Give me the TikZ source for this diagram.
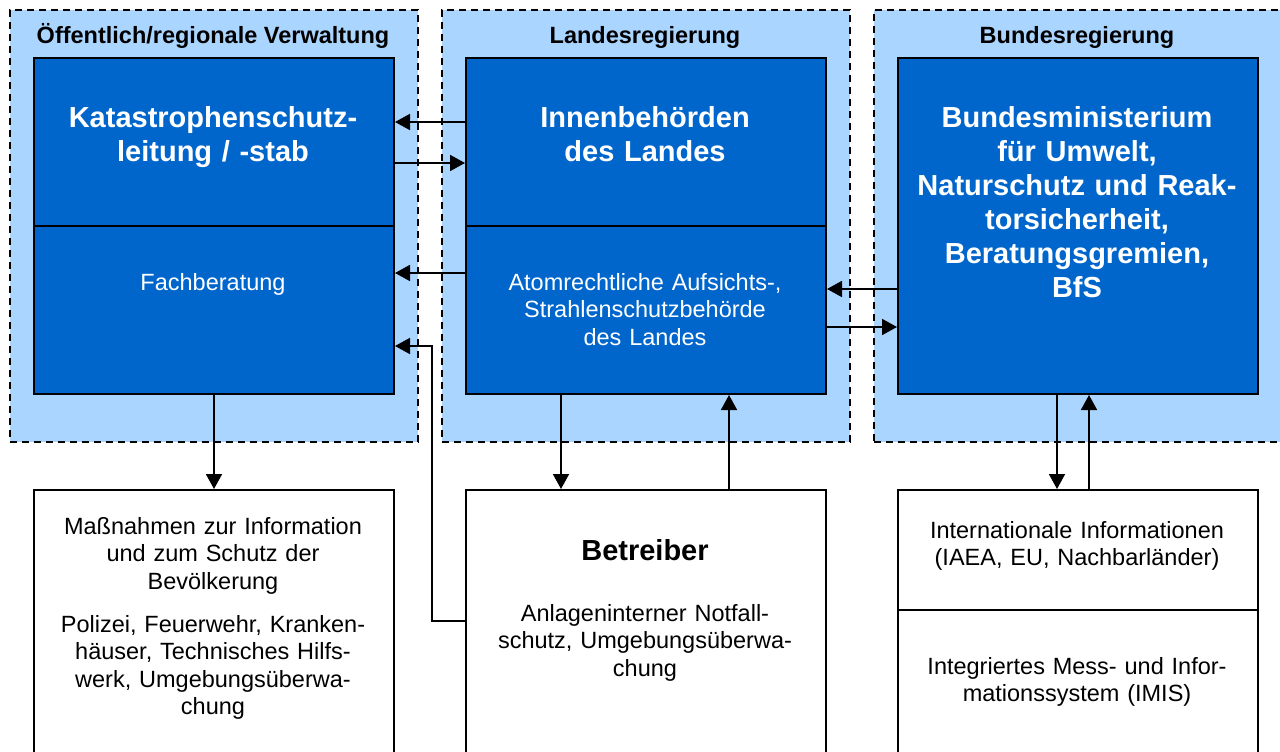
\documentclass[tikz,border=0pt]{standalone}
\usepackage{fontspec}
\setmainfont{Liberation Sans}
\usepackage{tikz}
\usetikzlibrary{arrows.meta}
\definecolor{unitblue}{HTML}{0066CC}
\definecolor{zoneblue}{HTML}{AAD5FF}
\tikzstyle{zone}=[draw=black, fill=zoneblue, line width=1.8pt, dash pattern=on 7pt off 5pt,
    anchor=north west, minimum width=408pt, minimum height=432pt]
\tikzstyle{unit_box}=[draw=black, fill=unitblue, line width=2pt, anchor=north west,
    minimum width=360pt, minimum height=168pt]
\tikzstyle{info_box}=[draw=black, fill=white, line width=2pt, anchor=north west,
    minimum width=360pt]
\tikzstyle{zone_title}=[anchor=base, inner sep=0pt, font=\fontsize{23.5}{27.5}\selectfont\bfseries]
\tikzstyle{head_text}=[anchor=base, inner sep=0pt, text width=350pt, align=center,
    font=\fontsize{29}{34}\selectfont\bfseries]
\tikzstyle{body_text}=[anchor=base, inner sep=0pt, text width=350pt, align=center,
    font=\fontsize{23.5}{27.5}\selectfont]
\tikzstyle{flow}=[line width=1.8pt, -{Triangle[length=15pt, width=16pt]}]

\begin{document}
\begin{tikzpicture}[x=1pt, y=-1pt]
          \useasboundingbox (0,0) rectangle (1280,752);
          % Zonen
          \node[zone] (zoneL) at (9,9){};
          \node[zone] (zoneM) at (441,9){};
          \node[zone, minimum width=430pt] (zoneR) at (873,9){};
          \node[zone_title] (zoneLt) at (213,43.5){Öffentlich/regionale Verwaltung};
          \node[zone_title] (zoneMt) at (645,43.5){Landesregierung};
          \node[zone_title] (zoneRt) at (1077,43.5){Bundesregierung};
          % Behoerden
          \node[unit_box] (kat) at (33,57){};
          \node[unit_box] (fach) at (33,225){};
          \node[unit_box] (inn) at (465,57){};
          \node[unit_box] (atom) at (465,225){};
          \node[unit_box, minimum height=336pt] (bmu) at (897,57){};
          \node[head_text, white] (katT) at (213,128){Katastrophenschutz-\\leitung / -stab};
          \node[body_text, white] (fachT) at (213,290){Fachberatung};
          \node[head_text, white] (innT) at (645,128){Innenbehörden\\des Landes};
          \node[body_text, white] (atomT) at (645,290){Atomrechtliche Aufsichts-,\\Strahlenschutzbehörde\\des Landes};
          \node[head_text, white] (bmuT) at (1077,127){Bundesministerium\\für Umwelt,\\Naturschutz und Reak-\\torsicherheit,\\Beratungsgremien,\\BfS};
          % untere Kaesten
          \node[info_box, minimum height=290pt] (mass) at (33,489){};
          \node[info_box, minimum height=290pt] (betr) at (465,489){};
          \node[info_box, minimum height=120pt] (intl) at (897,489){};
          \node[info_box, minimum height=170pt] (imis) at (897,609){};
          \node[body_text] (massT) at (213,534){Maßnahmen zur Information\\und zum Schutz der\\Bevölkerung\\[15.5pt]Polizei, Feuerwehr, Kranken-\\häuser, Technisches Hilfs-\\werk, Umgebungsüberwa-\\chung};
          \node[head_text] (betrT) at (645,560){Betreiber};
          \node[body_text] (betrD) at (645,621){Anlageninterner Notfall-\\schutz, Umgebungsüberwa-\\chung};
          \node[body_text] (intlT) at (1077,538){Internationale Informationen\\(IAEA, EU, Nachbarländer)};
          \node[body_text] (imisT) at (1077,674){Integriertes Mess- und Infor-\\mationssystem (IMIS)};
          % Verbindungen
          \draw[flow]([yshift=-65pt]inn.north west) -- ([yshift=-65pt]kat.north east);
          \draw[flow]([yshift=-106pt]kat.north east) -- ([yshift=-106pt]inn.north west);
          \draw[flow]([yshift=-48pt]atom.north west) -- ([yshift=-48pt]fach.north east);
          \draw[flow]([yshift=-132pt]betr.north west) -- ++(-33,0) |- ([yshift=-121pt]fach.north east);
          \draw[flow]([yshift=-232pt]bmu.north west) -- ([yshift=-64pt]atom.north east);
          \draw[flow]([yshift=-102pt]atom.north east) -- ([yshift=-270pt]bmu.north west);
          \draw[flow](fach.south) -- (mass.north);
          \draw[flow]([xshift=96pt]atom.south west) -- ([xshift=96pt]betr.north west);
          \draw[flow]([xshift=264pt]betr.north west) -- ([xshift=264pt]atom.south west);
          \draw[flow]([xshift=160pt]bmu.south west) -- ([xshift=160pt]intl.north west);
          \draw[flow]([xshift=192pt]intl.north west) -- ([xshift=192pt]bmu.south west);
        \end{tikzpicture}
\end{document}
